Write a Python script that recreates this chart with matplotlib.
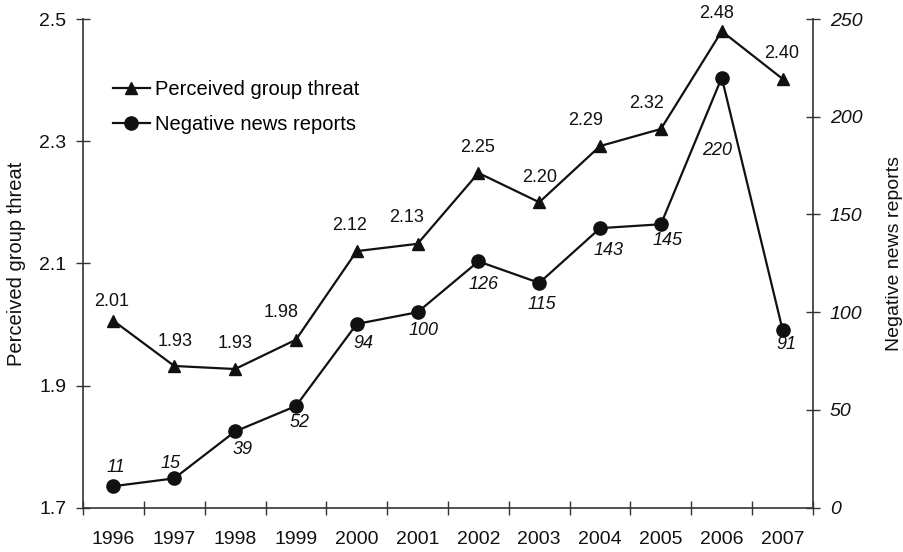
import numpy as np
import matplotlib
matplotlib.use("Agg")
import matplotlib.pyplot as plt

plt.rcParams['font.family'] = ['Liberation Sans', 'DejaVu Sans']

years = ['1996', '1997', '1998', '1999', '2000', '2001',
         '2002', '2003', '2004', '2005', '2006', '2007']
threat = [2.01, 1.93, 1.93, 1.98, 2.12, 2.13, 2.25, 2.20, 2.29, 2.32, 2.48, 2.40]
threat_plot = [2.006, 1.932, 1.927, 1.975, 2.120, 2.132, 2.248, 2.200, 2.292, 2.320, 2.480, 2.402]
news = [11, 15, 39, 52, 94, 100, 126, 115, 143, 145, 220, 91]

# label offsets in pixels (dx, dy)
threat_off = [(-2, 19), (1, 24), (0, 26), (-15, 27), (-7, 26), (-11, 26),
              (-1, 25), (0, 25), (-14, 26), (-14, 25), (-5, 18), (-1, 25)]
news_off = [(2, 19), (-4, 15), (7, -18), (4, -16), (7, -20), (6, -18),
            (5, -23), (3, -22), (8, -22), (7, -16), (-5, -73), (4, -15)]

col = '#111111'
x = np.arange(len(years))

fig = plt.figure(figsize=(9.04, 5.52), dpi=100)
ax = fig.add_axes([83/904, 1 - 507.7/552, 730/904, 488.7/552])
ax2 = ax.twinx()

ax.plot(x, threat_plot, color=col, lw=1.6, marker='^', ms=9, label='Perceived group threat')
ax2.plot(x, news, color=col, lw=1.6, marker='o', ms=9.5, label='Negative news reports')

px = 72 / 100
for i in range(len(x)):
    ax.annotate('%.2f' % threat[i], (x[i], threat_plot[i]),
                xytext=(threat_off[i][0] * px, threat_off[i][1] * px),
                textcoords='offset points', ha='center', va='center',
                fontsize=13, color=col)
    ax2.annotate(str(news[i]), (x[i], news[i]),
                 xytext=(news_off[i][0] * px, news_off[i][1] * px),
                 textcoords='offset points', ha='center', va='center',
                 fontsize=13, color=col, style='italic')

ax.set_xlim(-0.5, 11.5)
ax.set_ylim(1.7, 2.5)
ax2.set_ylim(0, 250)
ax.set_yticks([1.7, 1.9, 2.1, 2.3, 2.5])
ax.set_yticklabels(['1.7', '1.9', '2.1', '2.3', '2.5'])
ax2.set_yticks([0, 50, 100, 150, 200, 250])
ax2.set_yticklabels(['0', '50', '100', '150', '200', '250'], style='italic')

ax.set_xticks(np.arange(-0.5, 12, 1))
ax.set_xticklabels([])
ax.set_xticks(x, minor=True)
ax.set_xticklabels(years, minor=True)
ax.tick_params(axis='x', which='major', direction='inout', length=10, width=1, color='#333333')
ax.tick_params(axis='x', which='minor', length=0, labelsize=14, pad=17, labelcolor=col)
ax.tick_params(axis='y', direction='inout', length=10, width=1, color='#333333',
               labelsize=14, pad=7, labelcolor=col)
ax2.tick_params(axis='y', direction='inout', length=10, width=1, color='#333333',
                labelsize=14, pad=7, labelcolor=col)

for a in (ax, ax2):
    a.spines['top'].set_visible(False)
    for s in ('left', 'right', 'bottom'):
        a.spines[s].set_color('#333333')
        a.spines[s].set_linewidth(1.2)
ax.spines['right'].set_visible(False)
ax2.spines['left'].set_visible(False)
ax2.spines['bottom'].set_visible(False)

ax.set_ylabel('Perceived group threat', fontsize=14.5, color=col)
ax.yaxis.set_label_coords(-0.078, 0.5)
ax2.set_ylabel('Negative news reports', fontsize=14, color=col, rotation=90)
ax2.yaxis.set_label_coords(1.1, 0.52)

h1, l1 = ax.get_legend_handles_labels()
h2, l2 = ax2.get_legend_handles_labels()
ax.legend(h1 + h2, l1 + l2, loc='upper left', bbox_to_anchor=(0.03, 0.891),
          frameon=False, fontsize=14.5, handlelength=1.84, handletextpad=0.25,
          labelspacing=0.8, borderaxespad=0)

fig.savefig('out.png', dpi=100)
